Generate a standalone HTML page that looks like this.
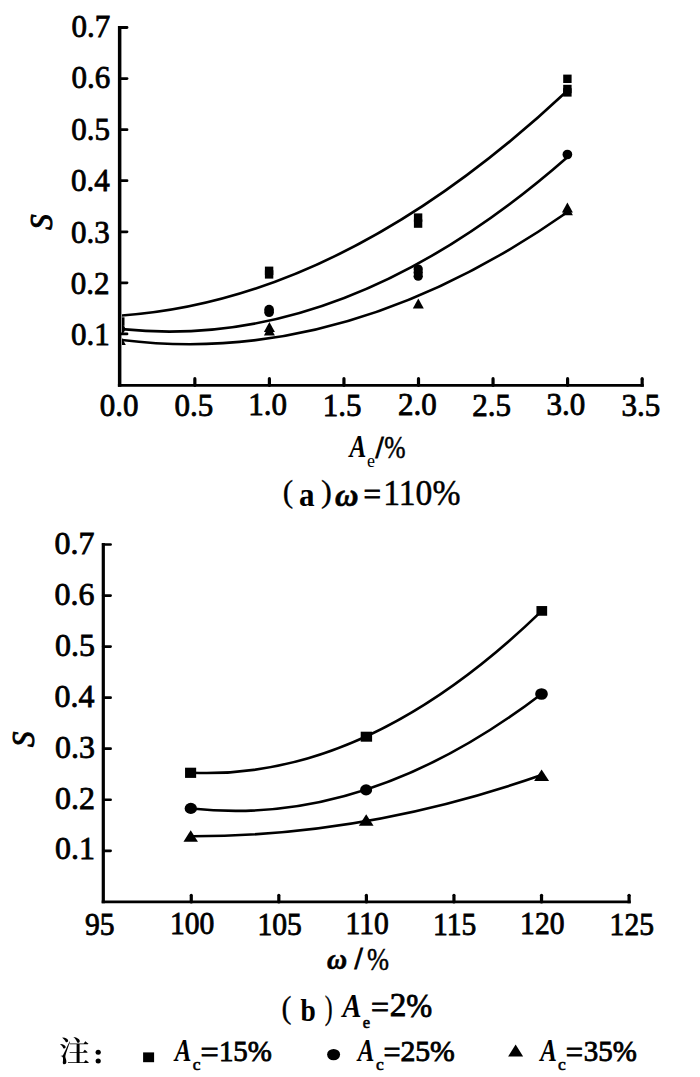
<!DOCTYPE html>
<html><head><meta charset="utf-8"><style>
html,body{margin:0;padding:0;background:#fff;}
svg{display:block;}
text{font-family:"Liberation Serif",serif;fill:#000;}
.lab{stroke:#000;stroke-width:0.8px;}
.ital{font-style:italic;stroke:#000;stroke-width:0.3px;}
.sub{stroke:#000;stroke-width:0.4px;}
.subb{stroke:#000;stroke-width:0.6px;}
.bold{font-weight:bold;}
.cap{stroke:#000;stroke-width:0.3px;}
.lab5{stroke:#000;stroke-width:0.5px;}
.lab12{stroke:#000;stroke-width:0.85px;}
.sub0{}
.bital{font-weight:bold;font-style:italic;}
.ital10{font-style:italic;stroke:#000;stroke-width:1.0px;}
.bold8{font-weight:bold;stroke:#000;stroke-width:0.9px;}
.bital6{font-weight:bold;font-style:italic;stroke:#000;stroke-width:0.6px;}
</style></head><body>
<svg width="700" height="1077" viewBox="0 0 700 1077">
<rect width="700" height="1077" fill="#fff"/>
<line x1="119.65" y1="26.11000000000005" x2="119.65" y2="386.7" stroke="#000" stroke-width="3.5"/>
<line x1="117.9" y1="385.3" x2="643.75" y2="385.3" stroke="#000" stroke-width="2.8"/>
<line x1="642.15" y1="386.7" x2="642.15" y2="378.7" stroke="#000" stroke-width="3.2"/><circle cx="642.15" cy="378.7" r="1.6"/>
<line x1="119.65" y1="333.93" x2="127.0" y2="333.93" stroke="#000" stroke-width="2.8" stroke-linecap="round"/>
<line x1="119.65" y1="282.86" x2="127.0" y2="282.86" stroke="#000" stroke-width="2.8" stroke-linecap="round"/>
<line x1="119.65" y1="231.79" x2="127.0" y2="231.79" stroke="#000" stroke-width="2.8" stroke-linecap="round"/>
<line x1="119.65" y1="180.72" x2="127.0" y2="180.72" stroke="#000" stroke-width="2.8" stroke-linecap="round"/>
<line x1="119.65" y1="129.65" x2="127.0" y2="129.65" stroke="#000" stroke-width="2.8" stroke-linecap="round"/>
<line x1="119.65" y1="78.58" x2="127.0" y2="78.58" stroke="#000" stroke-width="2.8" stroke-linecap="round"/>
<line x1="119.65" y1="27.51" x2="127.0" y2="27.51" stroke="#000" stroke-width="2.8" stroke-linecap="round"/>
<line x1="194.85" y1="385.3" x2="194.85" y2="378.7" stroke="#000" stroke-width="3.2" stroke-linecap="round"/>
<line x1="269.40" y1="385.3" x2="269.40" y2="378.7" stroke="#000" stroke-width="3.2" stroke-linecap="round"/>
<line x1="343.95" y1="385.3" x2="343.95" y2="378.7" stroke="#000" stroke-width="3.2" stroke-linecap="round"/>
<line x1="418.50" y1="385.3" x2="418.50" y2="378.7" stroke="#000" stroke-width="3.2" stroke-linecap="round"/>
<line x1="493.05" y1="385.3" x2="493.05" y2="378.7" stroke="#000" stroke-width="3.2" stroke-linecap="round"/>
<line x1="567.60" y1="385.3" x2="567.60" y2="378.7" stroke="#000" stroke-width="3.2" stroke-linecap="round"/>
<clipPath id="c1"><rect x="122" y="0" width="600" height="383"/></clipPath>
<g clip-path="url(#c1)">
<path d="M120.30,315.61 Q343.95,300.36 567.60,90.47" fill="none" stroke="#000" stroke-width="2.6"/>
<path d="M120.30,329.00 Q343.95,353.18 567.60,157.01" fill="none" stroke="#000" stroke-width="2.6"/>
<path d="M120.30,339.77 Q343.95,368.52 567.60,212.00" fill="none" stroke="#000" stroke-width="2.6"/>
<g fill="#000"><rect x="116.10" y="317.30" width="8.4" height="8.4"/><ellipse cx="120.30" cy="329.00" rx="4.85" ry="4.85"/><path d="M120.30,335.00 L125.80,345.00 L114.80,345.00Z"/><rect x="264.90" y="266.60" width="8.4" height="8.4"/><rect x="264.90" y="270.20" width="8.4" height="8.4"/><ellipse cx="269.10" cy="309.60" rx="4.85" ry="4.85"/><ellipse cx="269.10" cy="312.20" rx="4.85" ry="4.85"/><path d="M269.40,322.00 L274.90,332.00 L263.90,332.00Z"/><path d="M269.40,325.50 L274.90,335.50 L263.90,335.50Z"/><rect x="413.90" y="213.40" width="8.4" height="8.4"/><rect x="413.90" y="219.40" width="8.4" height="8.4"/><ellipse cx="418.20" cy="269.10" rx="4.65" ry="4.65"/><ellipse cx="418.20" cy="272.60" rx="4.65" ry="4.65"/><ellipse cx="418.20" cy="276.20" rx="4.65" ry="4.65"/><path d="M418.30,298.50 L423.80,308.50 L412.80,308.50Z"/><rect x="563.20" y="74.60" width="8.4" height="8.4"/><rect x="563.20" y="84.80" width="8.4" height="8.4"/><rect x="563.20" y="88.20" width="8.4" height="8.4"/><ellipse cx="567.40" cy="154.50" rx="4.85" ry="4.85"/><path d="M567.40,202.50 L572.90,212.50 L561.90,212.50Z"/><path d="M567.40,205.20 L572.90,215.20 L561.90,215.20Z"/></g>
</g>
<line x1="103.3" y1="543.1" x2="103.3" y2="903.3000000000001" stroke="#000" stroke-width="3.2"/>
<line x1="101.7" y1="901.95" x2="630.6900000000002" y2="901.95" stroke="#000" stroke-width="2.7"/>
<line x1="629.0900000000001" y1="903.3000000000001" x2="629.0900000000001" y2="895.35" stroke="#000" stroke-width="3.2"/><circle cx="629.0900000000001" cy="895.35" r="1.6"/>
<line x1="103.3" y1="850.80" x2="110.6" y2="850.80" stroke="#000" stroke-width="2.7" stroke-linecap="round"/>
<line x1="103.3" y1="799.75" x2="110.6" y2="799.75" stroke="#000" stroke-width="2.7" stroke-linecap="round"/>
<line x1="103.3" y1="748.70" x2="110.6" y2="748.70" stroke="#000" stroke-width="2.7" stroke-linecap="round"/>
<line x1="103.3" y1="697.65" x2="110.6" y2="697.65" stroke="#000" stroke-width="2.7" stroke-linecap="round"/>
<line x1="103.3" y1="646.60" x2="110.6" y2="646.60" stroke="#000" stroke-width="2.7" stroke-linecap="round"/>
<line x1="103.3" y1="595.55" x2="110.6" y2="595.55" stroke="#000" stroke-width="2.7" stroke-linecap="round"/>
<line x1="103.3" y1="544.50" x2="110.6" y2="544.50" stroke="#000" stroke-width="2.7" stroke-linecap="round"/>
<line x1="191.27" y1="901.95" x2="191.27" y2="895.35" stroke="#000" stroke-width="3.2" stroke-linecap="round"/>
<line x1="278.83" y1="901.95" x2="278.83" y2="895.35" stroke="#000" stroke-width="3.2" stroke-linecap="round"/>
<line x1="366.40" y1="901.95" x2="366.40" y2="895.35" stroke="#000" stroke-width="3.2" stroke-linecap="round"/>
<line x1="453.96" y1="901.95" x2="453.96" y2="895.35" stroke="#000" stroke-width="3.2" stroke-linecap="round"/>
<line x1="541.53" y1="901.95" x2="541.53" y2="895.35" stroke="#000" stroke-width="3.2" stroke-linecap="round"/>
<path d="M191.27,772.72 Q366.40,780.58 541.53,611.10" fill="none" stroke="#000" stroke-width="2.6"/>
<path d="M191.27,808.44 Q366.40,827.84 541.53,693.91" fill="none" stroke="#000" stroke-width="2.6"/>
<path d="M191.27,836.21 Q366.40,836.50 541.53,775.03" fill="none" stroke="#000" stroke-width="2.6"/>
<g fill="#000"><rect x="185.05" y="767.70" width="11.1" height="10.2"/><rect x="360.70" y="731.70" width="11.4" height="10"/><rect x="536.45" y="606.05" width="10.7" height="9.7"/><ellipse cx="190.80" cy="808.40" rx="6.15" ry="5.55"/><ellipse cx="366.10" cy="789.90" rx="6.05" ry="5.55"/><ellipse cx="541.50" cy="694.00" rx="6.35" ry="5.85"/><path d="M190.70,830.20 L197.95,841.70 L183.45,841.70Z"/><path d="M366.20,814.26 L373.55,825.66 L358.85,825.66Z"/><path d="M541.60,769.38 L549.10,781.08 L534.10,781.08Z"/></g>
<path id="zhu" transform="translate(59.058,1027.800) scale(0.03064,0.02945)" d="M476 309 467 316C517 360 575 433 592 497C692 557 756 354 476 309ZM115 326 106 334C149 368 200 427 217 478C312 531 369 347 115 326ZM42 548 34 557C75 588 123 642 137 691C229 745 289 566 42 548ZM103 947C93 947 58 947 58 947V968C80 969 96 973 109 983C132 998 137 1083 121 1185C126 1220 145 1236 167 1236C210 1236 237 1205 239 1159C242 1074 206 1036 205 986C205 961 212 926 221 892C235 839 314 600 357 471L340 466C153 889 153 889 132 926C121 947 117 947 103 947ZM286 1167 294 1196H947C961 1196 972 1191 974 1180C936 1143 871 1092 871 1092L814 1167H670V847H907C922 847 932 843 934 832C899 797 837 749 837 749L784 819H670V558H932C947 558 957 553 960 542C922 507 859 455 859 455L803 529H340L348 558H573V819H342L350 847H573V1167Z"/>
<ellipse cx="98.2" cy="1052.3" rx="2.6" ry="2.5"/><ellipse cx="98.2" cy="1061.1" rx="2.6" ry="2.5"/>
<rect x="143.10" y="1052.40" width="11" height="9.8"/>
<ellipse cx="333.60" cy="1054.60" rx="6.5" ry="5.7"/>
<path d="M515.6,1044.6 L523.1,1056.6 L508.1,1056.6Z"/>
<text id="t_y1" class="lab" transform="translate(71.11,345.34) scale(1.0000,1)" font-size="31.00">0.1</text>
<text id="t_y2" class="lab" transform="translate(70.76,293.62) scale(1.0000,1)" font-size="31.00">0.2</text>
<text id="t_y3" class="lab" transform="translate(70.90,242.92) scale(1.0000,1)" font-size="31.00">0.3</text>
<text id="t_y4" class="lab" transform="translate(71.09,191.13) scale(1.0000,1)" font-size="31.00">0.4</text>
<text id="t_y5" class="lab" transform="translate(71.18,140.41) scale(1.0000,1)" font-size="31.00">0.5</text>
<text id="t_y6" class="lab" transform="translate(71.38,87.72) scale(1.0000,1)" font-size="31.00">0.6</text>
<text id="t_y7" class="lab" transform="translate(71.53,36.96) scale(1.0000,1)" font-size="31.00">0.7</text>
<text id="t_x0" class="lab" transform="translate(99.81,416.00) scale(1.0000,1)" font-size="31.00">0.0</text>
<text id="t_x1" class="lab" transform="translate(174.61,416.00) scale(1.0000,1)" font-size="31.00">0.5</text>
<text id="t_x2" class="lab" transform="translate(248.32,415.04) scale(1.0000,1)" font-size="31.00">1.0</text>
<text id="t_x3" class="lab" transform="translate(322.64,416.08) scale(1.0000,1)" font-size="31.00">1.5</text>
<text id="t_x4" class="lab" transform="translate(397.99,415.04) scale(1.0000,1)" font-size="31.00">2.0</text>
<text id="t_x5" class="lab" transform="translate(472.32,416.08) scale(1.0000,1)" font-size="31.00">2.5</text>
<text id="t_x6" class="lab" transform="translate(546.59,415.11) scale(1.0000,1)" font-size="31.00">3.0</text>
<text id="t_x7" class="lab" transform="translate(621.40,416.00) scale(1.0000,1)" font-size="31.00">3.5</text>
<text id="t_S" class="ital10" transform="translate(52.00,229.82) rotate(-90) scale(0.9500,1)" font-size="32.50">S</text>
<text id="t_A" class="bital" transform="translate(349.60,457.40) scale(0.7873,1)" font-size="32.00">A</text>
<text id="t_e" class="sub0" transform="translate(366.88,466.87) scale(1.0000,1)" font-size="18.00">e</text>
<text id="t_sl" class="bold8" transform="translate(375.77,457.55) scale(0.8744,1)" font-size="31.61">/</text>
<text id="t_pc" class="lab5" transform="translate(384.20,457.64) scale(0.8382,1)" font-size="30.54">%</text>
<text id="c_lp" class="cap" transform="translate(282.76,501.95) scale(0.9683,1)" font-size="32.37">(</text>
<text id="c_a" class="bold" transform="translate(299.03,506.11) scale(0.9364,1)" font-size="33.27">a</text>
<text id="c_rp" class="cap" transform="translate(321.04,501.95) scale(1.0117,1)" font-size="32.37">)</text>
<text id="c_w" class="bital6" transform="translate(334.95,505.51) scale(1.0142,1)" font-size="32.03">ω</text>
<text id="c_eq" class="lab12" transform="translate(363.61,504.60) scale(0.9703,1)" font-size="32.00">=</text>
<text id="c_110" class="lab5" transform="translate(383.16,505.08) scale(0.9235,1)" font-size="36.45">110%</text>
<text id="b_y1" class="lab" transform="translate(54.97,859.41) scale(1.0100,1)" font-size="31.60">0.1</text>
<text id="b_y2" class="lab" transform="translate(54.99,808.51) scale(1.0100,1)" font-size="31.60">0.2</text>
<text id="b_y3" class="lab" transform="translate(55.01,757.65) scale(1.0100,1)" font-size="31.60">0.3</text>
<text id="b_y4" class="lab" transform="translate(54.53,706.75) scale(1.0100,1)" font-size="31.60">0.4</text>
<text id="b_y5" class="lab" transform="translate(55.01,655.79) scale(1.0100,1)" font-size="31.60">0.5</text>
<text id="b_y6" class="lab" transform="translate(54.52,605.04) scale(1.0100,1)" font-size="31.60">0.6</text>
<text id="b_y7" class="lab" transform="translate(54.52,554.04) scale(1.0100,1)" font-size="31.60">0.7</text>
<text id="b_x95" class="lab" transform="translate(85.03,934.96) scale(0.9550,1)" font-size="31.00">95</text>
<text id="b_x100" class="lab" transform="translate(169.98,934.22) scale(0.9550,1)" font-size="31.00">100</text>
<text id="b_x105" class="lab" transform="translate(257.47,935.26) scale(0.9550,1)" font-size="31.00">105</text>
<text id="b_x110" class="lab" transform="translate(345.50,934.22) scale(0.9550,1)" font-size="31.00">110</text>
<text id="b_x115" class="lab" transform="translate(433.00,935.26) scale(0.9550,1)" font-size="31.00">115</text>
<text id="b_x120" class="lab" transform="translate(520.12,934.22) scale(0.9550,1)" font-size="31.00">120</text>
<text id="b_x125" class="lab" transform="translate(609.59,934.86) scale(0.9550,1)" font-size="31.00">125</text>
<text id="b_S" class="ital10" transform="translate(34.31,746.90) rotate(-90) scale(0.9500,1)" font-size="32.50">S</text>
<text id="b_w" class="bital6" transform="translate(326.90,969.36) scale(0.9759,1)" font-size="28.46">ω</text>
<text id="b_sl" class="bold8" transform="translate(354.84,968.55) scale(0.9042,1)" font-size="30.87">/</text>
<text id="b_pc" class="lab5" transform="translate(366.92,970.03) scale(0.8198,1)" font-size="32.26">%</text>
<text id="d_lp" class="cap" transform="translate(281.48,1018.04) scale(0.9433,1)" font-size="31.69">(</text>
<text id="d_b" class="bold" transform="translate(300.38,1021.00) scale(0.8596,1)" font-size="32.00">b</text>
<text id="d_rp" class="cap" transform="translate(324.79,1018.85) scale(0.7166,1)" font-size="33.03">)</text>
<text id="d_A" class="bital" transform="translate(342.47,1017.19) scale(0.8493,1)" font-size="33.52">A</text>
<text id="d_e" class="subb" transform="translate(362.68,1027.51) scale(0.9500,1)" font-size="17.50">e</text>
<text id="d_eq" class="lab12" transform="translate(370.95,1018.00) scale(0.9966,1)" font-size="32.00">=</text>
<text id="d_2" class="lab12" transform="translate(389.80,1015.65) scale(0.9679,1)" font-size="34.31">2</text>
<text id="d_pc" class="lab12" transform="translate(406.22,1016.94) scale(0.9348,1)" font-size="33.30">%</text>
<text id="l_A0" class="bital" transform="translate(174.65,1061.20) scale(0.7806,1)" font-size="32.00">A</text>
<text id="l_c0" class="subb" transform="translate(192.68,1070.03) scale(1.0000,1)" font-size="17.50">c</text>
<text id="l_e0" class="lab12" transform="translate(200.40,1062.75) scale(1.0069,1)" font-size="32.00">=</text>
<text id="l_n0" class="lab12" transform="translate(218.88,1061.48) scale(0.9984,1)" font-size="28.99">15%</text>
<text id="l_A1" class="bital" transform="translate(357.65,1061.20) scale(0.7806,1)" font-size="32.00">A</text>
<text id="l_c1" class="subb" transform="translate(376.12,1070.03) scale(1.0000,1)" font-size="17.50">c</text>
<text id="l_e1" class="lab12" transform="translate(383.47,1062.75) scale(0.9440,1)" font-size="32.00">=</text>
<text id="l_n1" class="lab12" transform="translate(400.39,1061.48) scale(1.0251,1)" font-size="28.99">25%</text>
<text id="l_A2" class="bital" transform="translate(540.32,1061.20) scale(0.7806,1)" font-size="32.00">A</text>
<text id="l_c2" class="subb" transform="translate(558.01,1070.03) scale(1.0000,1)" font-size="17.50">c</text>
<text id="l_e2" class="lab12" transform="translate(565.76,1062.75) scale(0.9568,1)" font-size="32.00">=</text>
<text id="l_n2" class="lab12" transform="translate(583.83,1061.48) scale(0.9981,1)" font-size="28.99">35%</text>
</svg></body></html>
